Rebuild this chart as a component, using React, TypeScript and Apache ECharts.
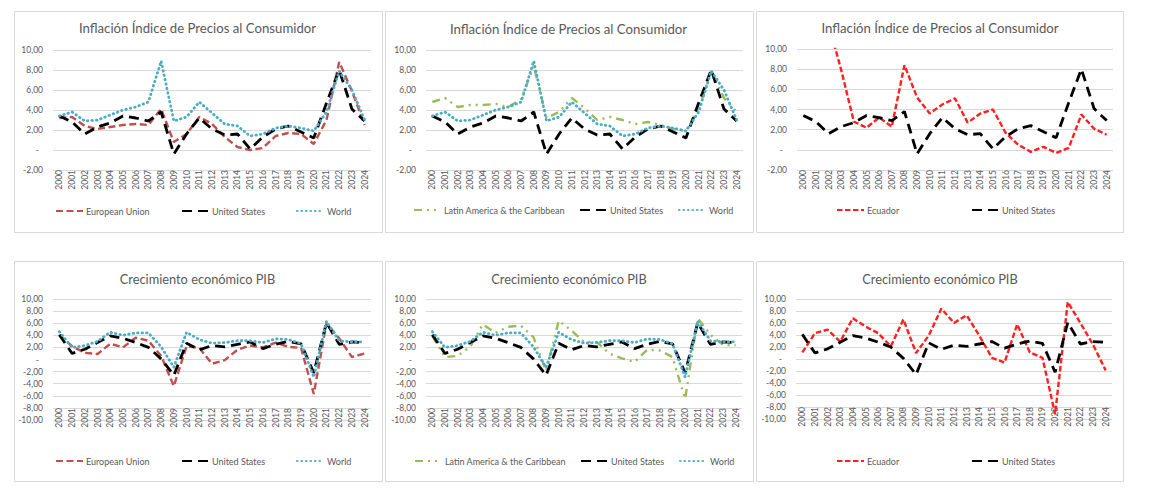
import React, { useEffect, useRef } from "react";
import * as echarts from "echarts";

const years = ["2000","2001","2002","2003","2004","2005","2006","2007","2008","2009","2010","2011","2012","2013","2014","2015","2016","2017","2018","2019","2020","2021","2022","2023","2024"];

const infEU = [3.2, 3.3, 2.4, 2.1, 2.3, 2.5, 2.6, 2.5, 4.1, 0.8, 1.6, 3.3, 2.6, 1.3, 0.3, 0.0, 0.2, 1.4, 1.7, 1.6, 0.6, 3.0, 8.8, 5.9, 2.5];
const infUS = [3.4, 2.8, 1.6, 2.3, 2.7, 3.4, 3.2, 2.9, 3.8, -0.4, 1.6, 3.2, 2.1, 1.5, 1.6, 0.1, 1.3, 2.1, 2.4, 1.8, 1.2, 4.7, 8.0, 4.1, 2.9];
const infWorld = [3.4, 3.8, 2.9, 3.0, 3.5, 4.0, 4.3, 4.8, 8.9, 2.9, 3.3, 4.8, 3.7, 2.6, 2.4, 1.4, 1.6, 2.2, 2.4, 2.2, 1.9, 3.8, 7.9, 6.0, 3.0];
const infLAC = [4.8, 5.2, 4.3, 4.5, 4.5, 4.6, 4.3, 5.1, 8.4, 3.2, 3.8, 5.2, 4.2, 3.0, 3.3, 3.0, 2.6, 2.8, 2.5, 2.1, 1.9, 4.1, 7.9, 5.2, 3.8];
const infEC = [96.1, 37.7, 12.5, 7.9, 2.8, 2.2, 3.2, 2.3, 8.4, 5.2, 3.6, 4.5, 5.1, 2.7, 3.6, 4.0, 1.7, 0.5, -0.2, 0.3, -0.3, 0.2, 3.5, 2.1, 1.5];

const gdpEU = [4.0, 2.2, 1.1, 0.9, 2.6, 2.0, 3.6, 3.1, 0.6, -4.4, 2.2, 1.9, -0.7, -0.1, 1.6, 2.3, 2.0, 2.8, 2.1, 1.9, -5.7, 6.0, 3.5, 0.4, 1.0];
const gdpUS = [4.1, 1.0, 1.7, 2.8, 3.9, 3.5, 2.8, 2.0, 0.1, -2.6, 2.7, 1.6, 2.3, 2.1, 2.5, 2.9, 1.8, 2.5, 3.0, 2.6, -2.2, 6.1, 2.5, 2.9, 2.8];
const gdpWorld = [4.6, 2.0, 2.3, 3.0, 4.5, 4.0, 4.4, 4.4, 2.1, -1.3, 4.5, 3.3, 2.7, 2.8, 3.1, 3.1, 2.8, 3.4, 3.3, 2.6, -2.9, 6.3, 3.1, 2.9, 2.9];
const gdpLAC = [3.9, 0.4, 0.6, 2.1, 5.8, 4.4, 5.4, 5.6, 3.7, -1.9, 6.4, 4.8, 2.9, 2.9, 1.0, 0.2, -0.4, 1.6, 1.5, 0.4, -6.5, 6.8, 4.1, 2.4, 2.4];
const gdpEC = [1.1, 4.3, 4.9, 2.9, 6.8, 5.4, 4.3, 2.1, 6.6, 1.0, 3.9, 8.4, 6.0, 7.3, 3.9, 0.2, -0.6, 5.8, 1.1, 0.2, -9.2, 9.5, 6.0, 2.4, -1.9];

const titleInf = "Inflación Índice de Precios al Consumidor";
const titleGdp = "Crecimiento económico PIB";

const FONT = "Lato, 'Noto Sans', sans-serif";
const TXT = "#595959";

const styles: Record<string, any> = {
  "European Union": { color: "#c0504d", width: 2.4, type: [7, 3.5] },
  "United States": { color: "#000000", width: 2.8, type: [10, 6] },
  "World": { color: "#4bacc6", width: 2.8, type: [0.5, 4], cap: "round" },
  "Latin America & the Caribbean": { color: "#9bbb59", width: 2.4, type: [8, 5, 2, 5, 2, 5] },
  "Ecuador": { color: "#ff2020", width: 2.4, type: [5.5, 2.5] },
};

export default function App() {
  const ref = useRef<HTMLDivElement>(null);
  useEffect(() => {
    if (!ref.current) return;
    const chart = echarts.init(ref.current, null, { renderer: "svg" });

    const grids = [
      { left: 53, top: 50, width: 318, height: 120 },
      { left: 426, top: 50, width: 317, height: 120 },
      { left: 797, top: 49, width: 316, height: 121 },
      { left: 53, top: 299, width: 318, height: 121 },
      { left: 426, top: 299, width: 316, height: 121 },
      { left: 796, top: 299, width: 316, height: 120 },
    ];
    const isGdp = [false, false, false, true, true, true];

    const panels: { name: string; data: number[] }[][] = [
      [{ name: "European Union", data: infEU }, { name: "United States", data: infUS }, { name: "World", data: infWorld }],
      [{ name: "Latin America & the Caribbean", data: infLAC }, { name: "United States", data: infUS }, { name: "World", data: infWorld }],
      [{ name: "Ecuador", data: infEC }, { name: "United States", data: infUS }],
      [{ name: "European Union", data: gdpEU }, { name: "United States", data: gdpUS }, { name: "World", data: gdpWorld }],
      [{ name: "Latin America & the Caribbean", data: gdpLAC }, { name: "United States", data: gdpUS }, { name: "World", data: gdpWorld }],
      [{ name: "Ecuador", data: gdpEC }, { name: "United States", data: gdpUS }],
    ];

    const series: any[] = [];
    panels.forEach((p, i) => {
      p.forEach((s) => {
        const st = styles[s.name];
        series.push({
          type: "line",
          name: s.name,
          xAxisIndex: i,
          yAxisIndex: i,
          data: s.data,
          symbol: "none",
          clip: true,
          lineStyle: { color: st.color, width: st.width, type: st.type, cap: st.cap || "butt" },
          itemStyle: { color: st.color },
        });
      });
    });

    const xAxis = grids.map((_, i) => ({
      type: "category",
      gridIndex: i,
      data: years,
      boundaryGap: true,
      offset: isGdp[i] ? -12 : 0,
      axisLine: { show: false, onZero: false },
      axisTick: { show: false },
      axisLabel: { rotate: 90, interval: 0, fontSize: 8.5, color: TXT, margin: 0, fontFamily: FONT },
    }));

    const yAxis = grids.map((_, i) => ({
      type: "value",
      gridIndex: i,
      min: isGdp[i] ? -10 : -2,
      max: 10,
      interval: 2,
      axisLine: { show: false },
      axisTick: { show: false },
      splitLine: { lineStyle: { color: "#d9d9d9", width: 1 } },
      axisLabel: {
        fontSize: 8.5,
        color: TXT,
        fontFamily: FONT,
        margin: 10,
        formatter: (v: number) => (v === 0 ? "{z|-}" : v.toFixed(2).replace(".", ",")),
        rich: { z: { fontSize: 8.5, color: TXT, fontFamily: FONT, padding: [0, 4, 0, 0] } },
      },
    }));

    const legendItems: { name: string; x: number; y: number }[] = [
      { name: "European Union", x: 55, y: 211.5 },
      { name: "United States", x: 181, y: 211.5 },
      { name: "World", x: 296, y: 211.5 },
      { name: "Latin America & the Caribbean", x: 413, y: 210.5 },
      { name: "United States", x: 579, y: 210.5 },
      { name: "World", x: 678, y: 210.5 },
      { name: "Ecuador", x: 836, y: 210.5 },
      { name: "United States", x: 971, y: 210.5 },
      { name: "European Union", x: 55, y: 461.5 },
      { name: "United States", x: 181, y: 461.5 },
      { name: "World", x: 296, y: 461.5 },
      { name: "Latin America & the Caribbean", x: 414, y: 461.5 },
      { name: "United States", x: 580, y: 461.5 },
      { name: "World", x: 679, y: 461.5 },
      { name: "Ecuador", x: 836, y: 461.5 },
      { name: "United States", x: 971, y: 461.5 },
    ];
    const legend = legendItems.map((l) => ({
      data: [l.name],
      left: l.x,
      top: l.y - 5,
      padding: 0,
      itemWidth: 27,
      itemHeight: 10,
      selectedMode: false,
      itemStyle: { color: "transparent", borderWidth: 0, opacity: 0 },
      textStyle: { fontSize: 9, color: TXT, fontFamily: FONT, padding: [0, 0, 0, -2] },
    }));

    const boxes = [
      [14, 11, 368, 221],
      [385, 11, 368, 221],
      [756, 11, 367, 221],
      [14, 261, 368, 220],
      [385, 261, 368, 220],
      [756, 261, 367, 220],
    ];
    const titles = [
      { t: titleInf, x: 197.5, y: 28, s: 13.2 },
      { t: titleInf, x: 568.5, y: 29, s: 13.2 },
      { t: titleInf, x: 940, y: 28, s: 13.2 },
      { t: titleGdp, x: 197.5, y: 279, s: 12.8 },
      { t: titleGdp, x: 569, y: 279, s: 12.8 },
      { t: titleGdp, x: 940, y: 279, s: 12.8 },
    ];
    const graphic: any[] = [];
    boxes.forEach((b) => {
      graphic.push({
        type: "rect",
        silent: true,
        z: -10,
        shape: { x: b[0] + 0.5, y: b[1] + 0.5, width: b[2], height: b[3] },
        style: { fill: "none", stroke: "#d9d9d9", lineWidth: 1 },
      });
    });
    titles.forEach((t) => {
      graphic.push({
        type: "text",
        x: t.x,
        y: t.y,
        style: {
          text: t.t,
          align: "center",
          verticalAlign: "middle",
          fontSize: t.s,
          fontFamily: FONT,
          fill: TXT,
        },
      });
    });

    chart.setOption({
      animation: false,
      backgroundColor: "#ffffff",
      grid: grids,
      xAxis,
      yAxis,
      legend,
      series,
      graphic,
    });
    return () => chart.dispose();
  }, []);
  return (
    <div
      ref={ref}
      style={{ position: "absolute", left: 0, top: 0, width: 1150, height: 498 }}
    />
  );
}
